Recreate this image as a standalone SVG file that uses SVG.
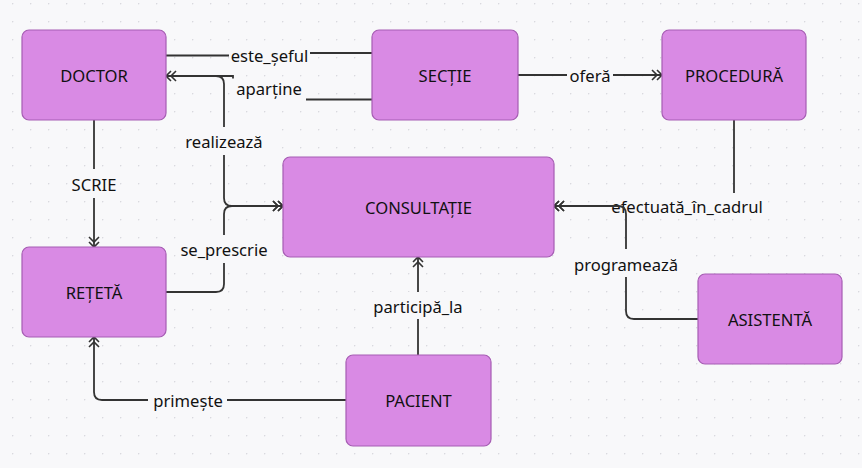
<svg xmlns="http://www.w3.org/2000/svg" width="862" height="468" viewBox="0 0 862 468">
<defs>
<pattern id="dots" x="12" y="3" width="18" height="18" patternUnits="userSpaceOnUse">
<circle cx="0.5" cy="0.5" r="0.9" fill="#d9d9de"/>
</pattern>
<marker id="arr" viewBox="-12 -7 14 14" markerWidth="14" markerHeight="14" refX="0" refY="0" orient="auto" markerUnits="userSpaceOnUse">
<path d="M-10,-5 L-5,0 L-10,5 M-5,-5 L0,0 L-5,5" fill="none" stroke="#333" stroke-width="1.6"/>
</marker>
<style>
.node rect{fill:#d98ae4;stroke:#a65db3;stroke-width:1.2}
.node text{font-family:"Noto Sans","Open Sans",sans-serif;font-size:16.6px;fill:#111;text-anchor:middle;dominant-baseline:central}
.edge{fill:none;stroke:#333;stroke-width:1.8}
.lbg{fill:#f8f8fa}
.lbl{font-family:"Noto Sans","Open Sans",sans-serif;font-size:16.6px;fill:#111;text-anchor:middle;dominant-baseline:central}
</style>
</defs>
<rect width="862" height="468" fill="#f8f8fa"/>
<rect width="862" height="468" fill="url(#dots)"/>

<g id="connectors">
<path class="edge" d="M166,55.5 H268 V53 H372"/>
<rect class="lbg" x="229" y="45" width="81" height="21"/>
<text class="lbl" x="269.5" y="55">este_șeful</text>

<path class="edge" d="M372,99.5 H233 V76 H166" marker-end="url(#arr)"/>
<rect class="lbg" x="230" y="78.5" width="76" height="23"/>
<text class="lbl" x="269" y="88.5">aparține</text>

<path class="edge" d="M518,75 H662" marker-end="url(#arr)"/>
<rect class="lbg" x="567" y="64" width="46" height="22"/>
<text class="lbl" x="590" y="75">oferă</text>

<path class="edge" d="M94,120 V247" marker-end="url(#arr)"/>
<rect class="lbg" x="68" y="169" width="52" height="29"/>
<text class="lbl" x="94" y="184">SCRIE</text>

<path class="edge" d="M166,76 H216 Q224,76 224,84 V198 Q224,206 232,206 H283" marker-end="url(#arr)"/>
<rect class="lbg" x="182" y="127" width="85" height="28"/>
<text class="lbl" x="224" y="141">realizează</text>

<path class="edge" d="M166,292 H216 Q224,292 224,284 V214 Q224,206 232,206 H283" marker-end="url(#arr)"/>
<rect class="lbg" x="176" y="235" width="97" height="28"/>
<text class="lbl" x="224" y="249.5">se_prescrie</text>

<path class="edge" d="M734,120 V198 Q734,206 726,206 H554" marker-end="url(#arr)"/>
<rect class="lbg" x="608" y="193" width="158" height="26"/>
<text class="lbl" x="687" y="206.5">efectuată_în_cadrul</text>

<path class="edge" d="M698,319 H634 Q626,319 626,311 V214 Q626,206 618,206 H554" marker-end="url(#arr)"/>
<rect class="lbg" x="569" y="249" width="113" height="28"/>
<text class="lbl" x="626" y="264">programează</text>

<path class="edge" d="M418,355 V257" marker-end="url(#arr)"/>
<rect class="lbg" x="369" y="292" width="98" height="27"/>
<text class="lbl" x="418" y="306">participă_la</text>

<path class="edge" d="M346,400 H102 Q94,400 94,392 V337" marker-end="url(#arr)"/>
<rect class="lbg" x="148" y="389" width="79" height="22"/>
<text class="lbl" x="188" y="400">primește</text>
</g>

<g id="doctor" class="node"><rect x="22" y="30" width="144" height="90" rx="7"/><text x="94" y="75">DOCTOR</text></g>
<g id="sectie" class="node"><rect x="372" y="30" width="146" height="90" rx="7"/><text x="445" y="75">SECȚIE</text></g>
<g id="procedura" class="node"><rect x="662" y="30" width="144" height="90" rx="7"/><text x="734" y="75">PROCEDURĂ</text></g>
<g id="consultatie" class="node"><rect x="283" y="157" width="271" height="100" rx="7"/><text x="418.5" y="207">CONSULTAȚIE</text></g>
<g id="reteta" class="node"><rect x="22" y="247" width="144" height="90" rx="7"/><text x="94" y="292">REȚETĂ</text></g>
<g id="pacient" class="node"><rect x="346" y="355" width="145" height="91" rx="7"/><text x="418.5" y="400.5">PACIENT</text></g>
<g id="asistenta" class="node"><rect x="698" y="274" width="144" height="90" rx="7"/><text x="770" y="319">ASISTENTĂ</text></g>
</svg>
